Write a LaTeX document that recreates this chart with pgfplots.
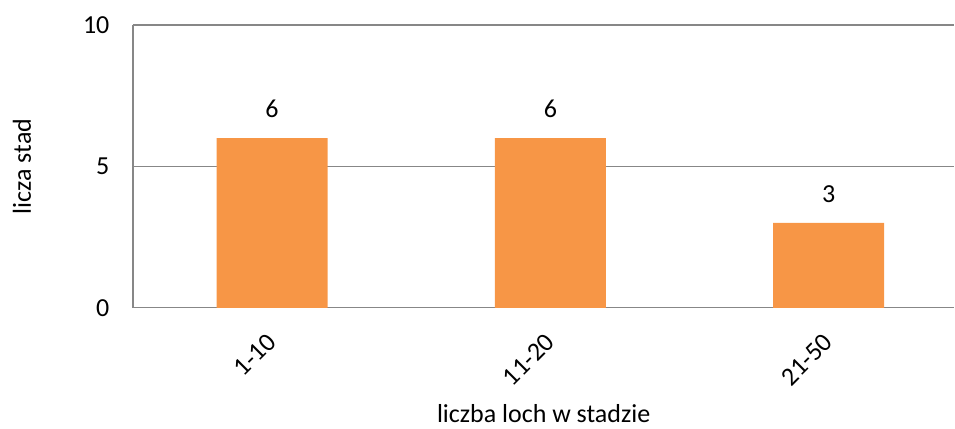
\documentclass[border=0pt]{standalone}
\usepackage{pgfplots}
\pgfplotsset{compat=1.18}
\usepackage{fontspec}
\setmainfont{Carlito}
\definecolor{barorange}{HTML}{F79646}
\definecolor{gridgray}{HTML}{878787}
\begin{document}
\begin{tikzpicture}
\begin{axis}[
  scale only axis,
  width=822pt, height=283pt,
  xmin=-0.5, xmax=2.452,
  ymin=0, ymax=10,
  ytick={0,5,10},
  xtick={0,1,2},
  xticklabels={1-10,11-20,21-50},
  axis lines*=left,
  axis line style={gridgray, line width=1.2pt},
  ymajorgrids,
  grid style={gridgray, line width=1.2pt},
  major tick length=0pt,
  tick style={draw=none},
  font=\fontsize{26}{31}\selectfont,
  /pgf/number format/assume math mode=true,
  yticklabel style={xshift=-20pt},
  xticklabel style={xshift=2pt, rotate=45, anchor=east},
  xticklabel shift=28pt,
  ylabel={licza stad},
  ylabel style={at={(axis description cs:-0.135,0.5)}, anchor=center},
  xlabel={liczba loch w stadzie},
  xlabel style={at={(axis description cs:0.5,-0.375)}, anchor=center},
  clip=false,
]
\addplot[ybar, bar width=111pt, fill=barorange, draw=none,
  nodes near coords,
  every node near coord/.append style={inner sep=0pt, anchor=south, yshift=20pt, text=black}]
  coordinates {(0,6) (1,6) (2,3)};
\end{axis}
\path (current axis.south west) ++(-133pt,-121pt) rectangle ++(955pt,429pt);
\end{tikzpicture}
\end{document}
